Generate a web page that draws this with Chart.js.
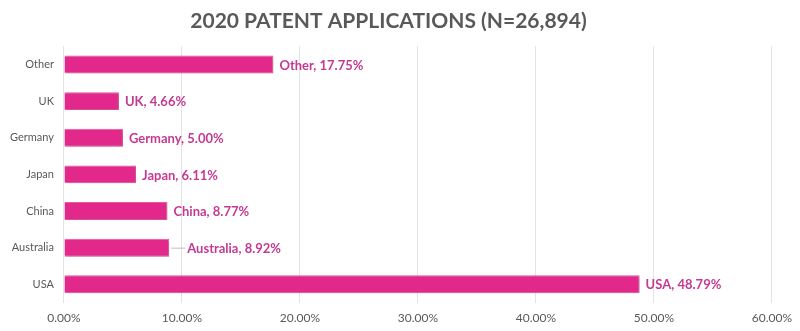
<!DOCTYPE html>
<html>
<head>
<meta charset="utf-8">
<script src="https://cdn.jsdelivr.net/npm/chart.js@4/dist/chart.umd.min.js"></script>
<style>
  html, body { margin: 0; padding: 0; background: #ffffff; }
  #wrap { width: 800px; height: 331px; }
</style>
</head>
<body>
<div id="wrap"><canvas id="chart" width="800" height="331"></canvas></div>
<script>
// Share of 2020 patent applications by country (percent)
const countries = ['Other', 'UK', 'Germany', 'Japan', 'China', 'Australia', 'USA'];
const shares = [17.75, 4.66, 5.00, 6.11, 8.77, 8.92, 48.79];
const axisTicks = [0, 10, 20, 30, 40, 50, 60];

const BAR_PINK = '#E2288B';
const LABEL_PINK = '#C43A93';
const GREY_TEXT = '#595959';

// Soft drop shadow under the bars
const barShadow = {
  id: 'barShadow',
  beforeDatasetsDraw(chart) {
    const ctx = chart.ctx;
    ctx.save();
    ctx.shadowColor = 'rgba(0,0,0,0.22)';
    ctx.shadowBlur = 3;
    ctx.shadowOffsetX = 2;
    ctx.shadowOffsetY = 1;
  },
  afterDatasetsDraw(chart) {
    chart.ctx.restore();
  }
};

// "Country, value%" labels at the end of each bar
const endLabels = {
  id: 'endLabels',
  afterDatasetsDraw(chart, args, opts) {
    const ctx = chart.ctx;
    const meta = chart.getDatasetMeta(0);
    ctx.save();
    ctx.shadowColor = 'transparent';
    ctx.font = 'bold 13px Lato, "Open Sans", sans-serif';
    ctx.fillStyle = LABEL_PINK;
    ctx.textBaseline = 'middle';
    ctx.textAlign = 'left';
    meta.data.forEach((bar, i) => {
      const name = chart.data.labels[i];
      const value = chart.data.datasets[0].data[i];
      const leader = (opts.leaders && opts.leaders[name]) || 0;
      let x = bar.x + 6;
      if (leader) {
        ctx.strokeStyle = '#bfbfbf';
        ctx.lineWidth = 1;
        ctx.beginPath();
        ctx.moveTo(bar.x + 2, bar.y + 0.5);
        ctx.lineTo(bar.x + 2 + leader, bar.y + 0.5);
        ctx.stroke();
        x = bar.x + 4 + leader;
      }
      ctx.fillText(name + ', ' + value.toFixed(2) + '%', x, bar.y + 1);
    });
    ctx.restore();
  }
};

new Chart(document.getElementById('chart'), {
  type: 'bar',
  data: {
    labels: countries,
    datasets: [{
      data: shares,
      backgroundColor: BAR_PINK,
      borderColor: '#EC5CA6',
      borderWidth: 1,
      barPercentage: 0.49,
      categoryPercentage: 1
    }]
  },
  options: {
    indexAxis: 'y',
    responsive: false,
    animation: false,
    layout: { padding: { left: 0, right: 23, top: 4, bottom: -2 } },
    plugins: {
      legend: { display: false },
      tooltip: { enabled: false },
      title: {
        display: true,
        text: '2020 PATENT APPLICATIONS (N=26,894)',
        color: GREY_TEXT,
        font: { family: 'Lato, "Open Sans", sans-serif', size: 21, weight: 'bold' },
        padding: { top: 5, bottom: 12 }
      },
      endLabels: { leaders: { Australia: 14 } }
    },
    scales: {
      x: {
        min: axisTicks[0],
        max: axisTicks[axisTicks.length - 1],
        afterBuildTicks(axis) {
          axis.ticks = axisTicks.map(v => ({ value: v }));
        },
        ticks: {
          color: GREY_TEXT,
          font: { family: 'Lato, "Open Sans", sans-serif', size: 12 },
          padding: 8,
          callback: v => v.toFixed(2) + '%'
        },
        grid: { color: '#e3e3e3', drawTicks: false },
        border: { display: false }
      },
      y: {
        ticks: {
          color: GREY_TEXT,
          font: { family: 'Lato, "Open Sans", sans-serif', size: 11 },
          padding: 10
        },
        grid: { display: false, drawTicks: false },
        border: { display: false }
      }
    }
  },
  plugins: [barShadow, endLabels]
});
</script>
</body>
</html>
